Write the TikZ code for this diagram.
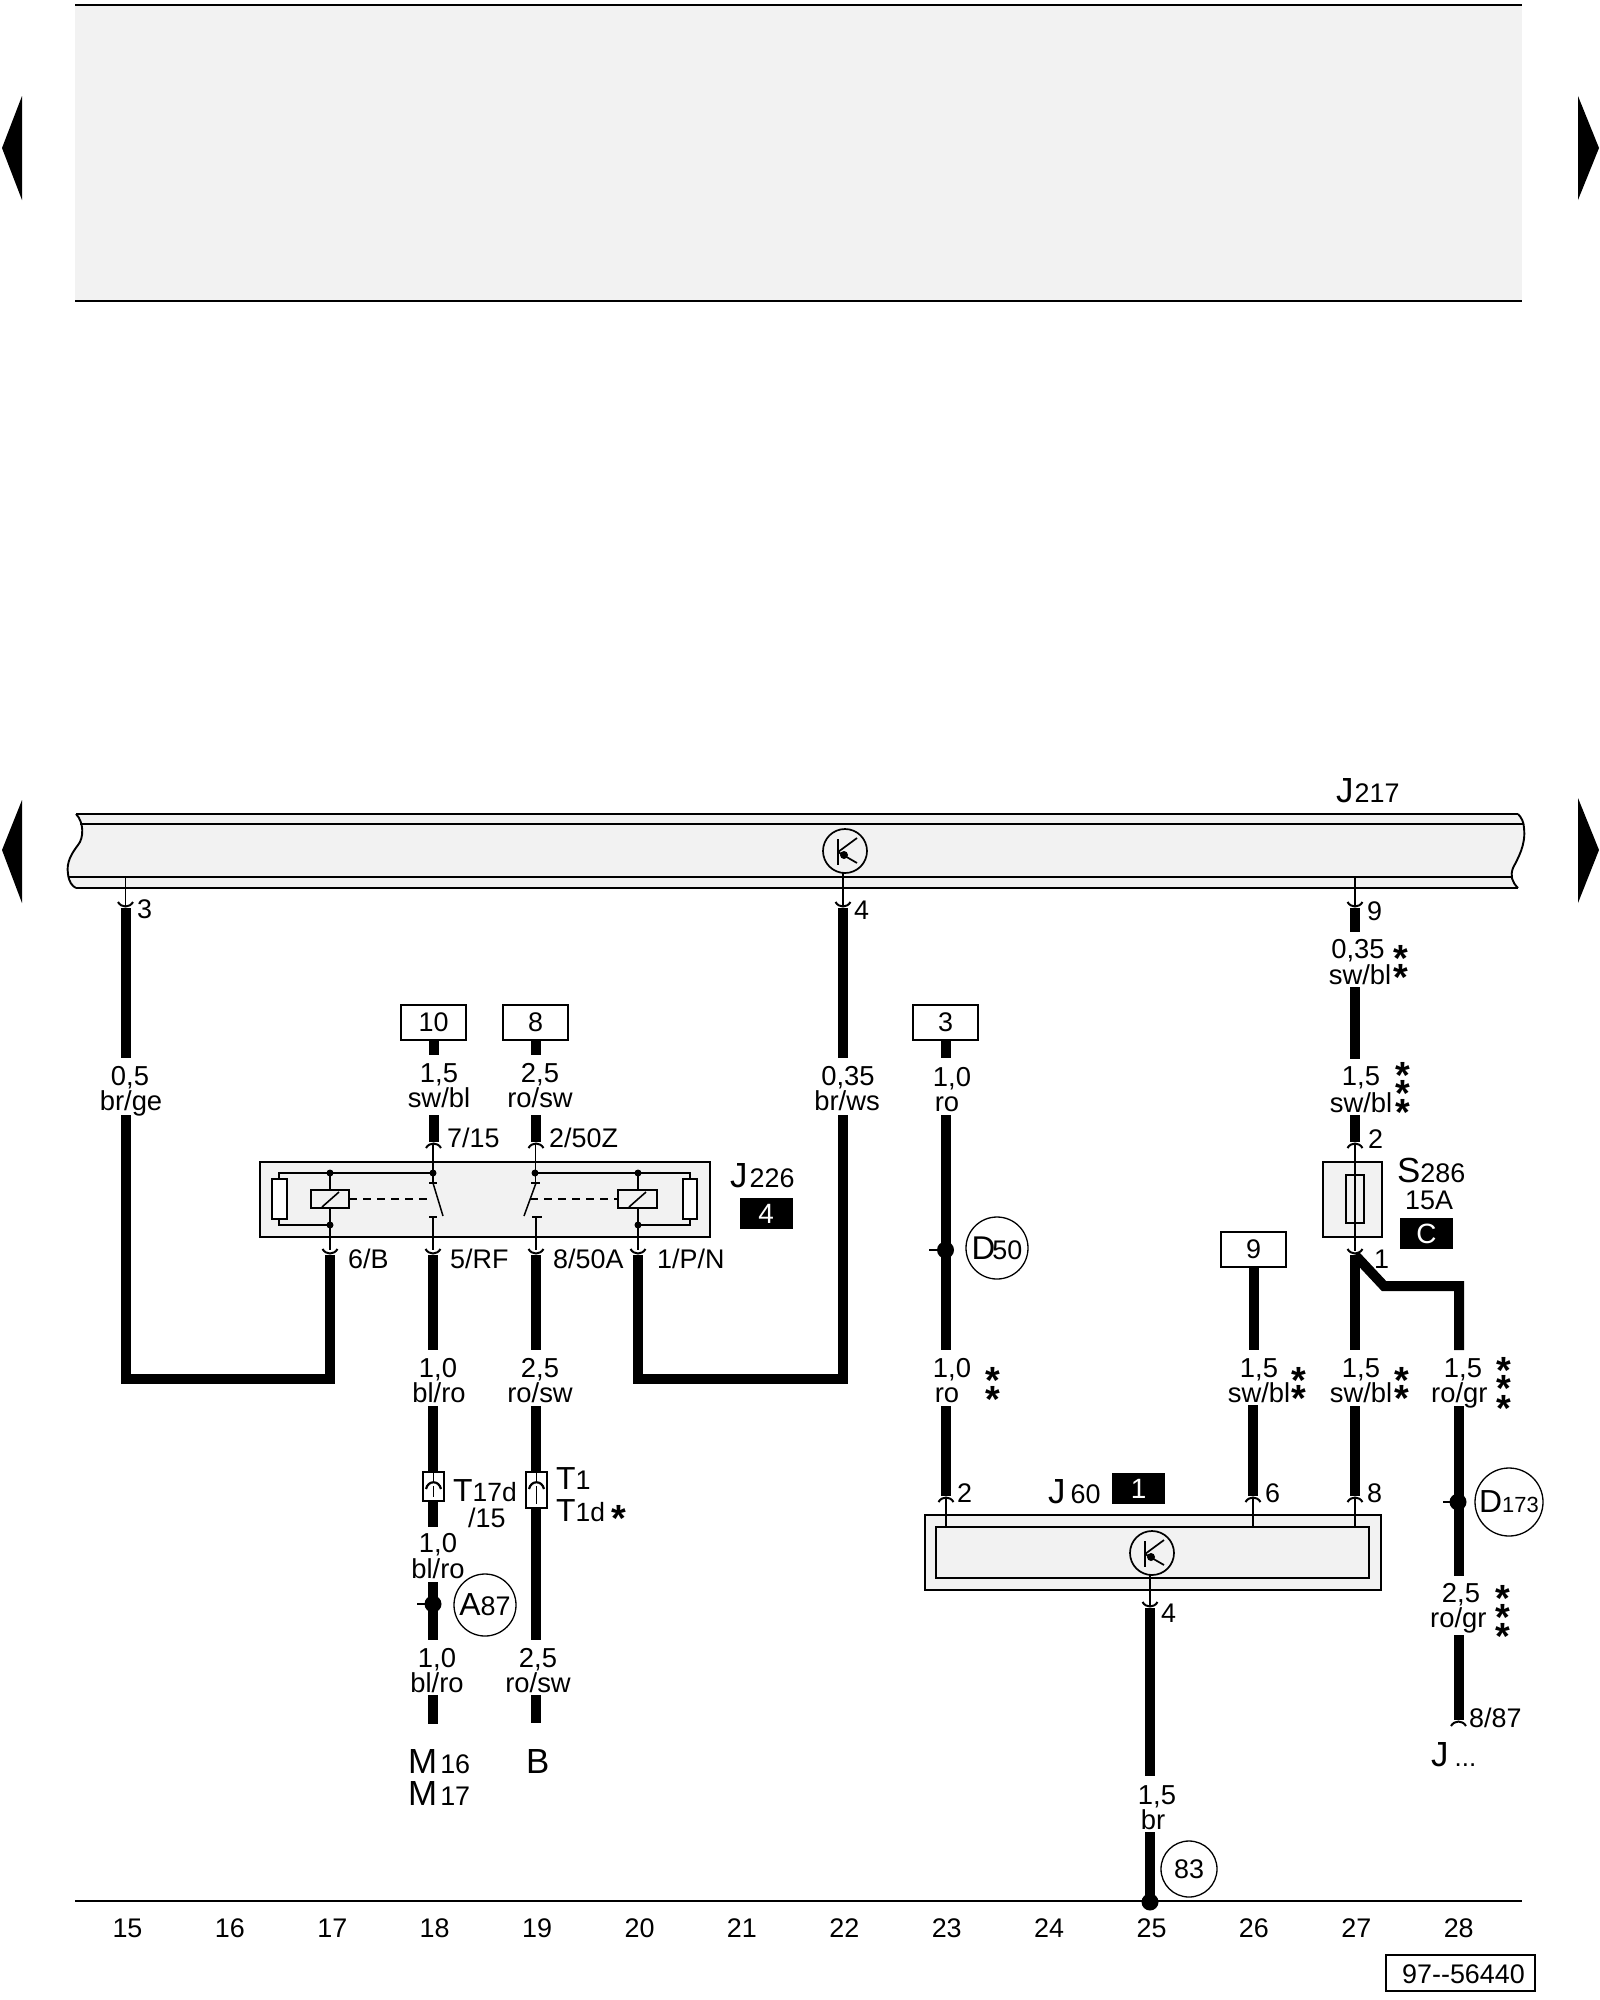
\documentclass[tikz,border=0pt]{standalone}
\usepackage{fontspec}
\setmainfont{Liberation Sans}
\newcommand\fs[1]{\fontsize{#1}{#1}\selectfont}
\tikzset{
  x=1bp,y=-1bp,
  graybg/.style={fill=panel,draw=none},
  rule/.style={draw=black,line width=1.9bp},
  boxline/.style={draw=black,line width=1.9bp,fill=panel},
  thinw/.style={draw=black,line width=1.3bp},
  cupline/.style={draw=black,line width=2bp},
  wire/.style={draw=black,line width=10bp,line cap=butt,line join=miter},
  lab/.style={inner sep=0pt,anchor=base,font=\fs{27.5}},
  labw/.style={inner sep=0pt,anchor=base west,font=\fs{27}},
  colnum/.style={inner sep=0pt,anchor=base,font=\fs{27}},
  star/.style={inner sep=0pt,anchor=base,font=\fs{38}\bfseries},
  refbox/.style={draw=black,line width=1.6bp,fill=white,inner sep=0pt,minimum width=65bp,minimum height=35bp,font=\fs{27}},
  blk/.style={fill=black,text=white,inner sep=0pt,minimum width=53bp,minimum height=31bp,font=\fs{28}},
  spot/.style={circle,draw=black,line width=1.3bp,inner sep=0pt,font=\fs{27}},
  jdot/.style={circle,fill=black,inner sep=0pt},
  contact/.style={draw=black,line width=1.3bp,fill=white},
}
\definecolor{panel}{HTML}{F2F2F2}
\newcommand\cupU[2]{\draw[cupline] ({#1-7.5},{#2-5}) .. controls ({#1-4},{#2+1}) and ({#1+4},{#2+1}) .. ({#1+7.5},{#2-5});}
\newcommand\cupN[2]{\draw[cupline] ({#1-7.5},{#2+5}) .. controls ({#1-4},{#2-1}) and ({#1+4},{#2-1}) .. ({#1+7.5},{#2+5});}
\newcommand\wseg[4]{\coordinate (#1a) at (#2,#3); \coordinate (#1b) at (#2,#4); \draw[wire] (#1a) -- (#1b);}
\newcommand\stub[3]{\draw[thinw] (#1,#2) -- (#1,#3);}
\newcommand\trans[3]{\begin{scope}[shift={(#2,#3)}]
  \node[circle,draw=black,line width=1.7bp,fill=panel,minimum size=44bp,inner sep=0pt] (#1) at (0,0) {};
  \draw[black,line width=1.7bp] (-7,-12) -- (-7,14);
  \draw[black,line width=1.7bp] (-7,1) -- (12,-13);
  \draw[black,line width=1.7bp] (-7,1) -- (12,12);
  \fill[black] (-1,4) circle (4);
\end{scope}}
\newcommand\stars[2]{\foreach \yy in {#2} {\node[star] at (#1,{\yy+18}) {*};}}
\begin{document}
\begin{tikzpicture}
\useasboundingbox (0,0) rectangle (1600,2000);
\fill[white] (0,0) rectangle (1600,2000);
% top panel
\fill[graybg] (75,5) rectangle (1522,301);
\draw[rule] (75,5) -- (1522,5);
\draw[rule] (75,301) -- (1522,301);
% page arrows
\fill[black] (2,148) -- (22,96) -- (22,200) -- cycle;
\fill[black] (1599,148) -- (1578,96) -- (1578,200) -- cycle;
\fill[black] (2,850) -- (22,800) -- (22,903) -- cycle;
\fill[black] (1599,850) -- (1578,798) -- (1578,903) -- cycle;
% J217 bar
\fill[graybg] (76,814) .. controls (84,822) and (84,838) .. (78,845) .. controls (72,853) and (66,862) .. (68,874) .. controls (69,882) and (72,886) .. (76,888)
  -- (1518,888) .. controls (1512,882) and (1510,876) .. (1513,868) .. controls (1518,858) and (1526,845) .. (1524,828) .. controls (1524,822) and (1521,817) .. (1518,814) -- cycle;
\draw[rule] (76,814) .. controls (84,822) and (84,838) .. (78,845) .. controls (72,853) and (66,862) .. (68,874) .. controls (69,882) and (72,886) .. (76,888);
\draw[rule] (1518,888) .. controls (1512,882) and (1510,876) .. (1513,868) .. controls (1518,858) and (1526,845) .. (1524,828) .. controls (1524,822) and (1521,817) .. (1518,814);
\draw[rule] (76,814) -- (1518,814);
\draw[rule] (80,824) -- (1523,824);
\draw[rule] (68,877) -- (1512,877);
\draw[rule] (76,888) -- (1518,888);
\trans{tbar}{845}{851}
\stub{125.5}{877}{906}\cupU{125.5}{907}
\stub{843}{873}{906}\cupU{843}{907}
\stub{1355}{877}{906}\cupU{1355}{907}
\node[labw] (n3) at (137,918) {3};
\node[labw] (n4) at (854,919) {4};
\node[labw] (n9) at (1367,920) {9};
\node[inner sep=0pt,anchor=base west] (j217) at (1336,802) {\fs{35}J\kern1bp\fs{27}217};
% wires from J217
\wseg{wa}{125.5}{908}{1058}
\coordinate (wb1) at (125.5,1115); \coordinate (wb2) at (125.5,1379); \coordinate (wb3) at (330,1379); \coordinate (wb4) at (330,1255);
\draw[wire] (wb1) -- (wb2) -- (wb3) -- (wb4);
\node[lab] (l1) at (130,1085) {0,5};
\node[lab] (l2) at (131,1110) {br/ge};
\wseg{wc}{843}{908}{1058}
\coordinate (wd1) at (843,1115); \coordinate (wd2) at (843,1379); \coordinate (wd3) at (638,1379); \coordinate (wd4) at (638,1255);
\draw[wire] (wd1) -- (wd2) -- (wd3) -- (wd4);
\node[lab] (l3) at (848,1085) {0,35};
\node[lab] (l4) at (847,1110) {br/ws};
% J226 relay
\node[refbox] (b10) at (433.5,1022.5) {10};
\node[refbox] (b8) at (535.5,1022.5) {8};
\draw[wire] (b10.south) -- (433.5,1055);
\draw[wire] (b8.south) -- (535.5,1055);
\node[lab] (l5) at (439,1082) {1,5};
\node[lab] (l6) at (439,1107) {sw/bl};
\node[lab] (l7) at (540,1082) {2,5};
\node[lab] (l8) at (540,1107) {ro/sw};
\wseg{we}{433.5}{1115}{1142}
\wseg{wf}{536}{1115}{1142}
\cupN{433.5}{1143}\cupN{536}{1143}
\node[labw] (l9) at (447,1147) {7/15};
\node[labw] (l10) at (549,1147) {2/50Z};
\node[draw=black,line width=1.8bp,fill=panel,inner sep=0pt,minimum width=450bp,minimum height=75bp] (j226) at (485,1199.5) {};
% left half of relay
\draw[thinw] (433,1173) -- (279,1173) -- (279,1225) -- (330,1225);
\draw[contact] (272,1179) rectangle (287,1219);
\draw[thinw] (330,1173) -- (330,1250);
\draw[thinw,fill=panel,line width=1.6bp] (311,1190) rectangle (349,1208);
\draw[thinw,line width=1.6bp] (322,1207) -- (339,1192);
\draw[thinw,dashed,dash pattern=on 8bp off 6bp] (349,1199) -- (433,1199);
\fill[black] (330,1173) circle (3.5) (330,1225) circle (3.5) (433,1173) circle (3.5);
\draw[thinw] (433,1143) -- (433,1183);
\draw[thinw] (429,1183) -- (437,1183);
\draw[thinw,line width=1.5bp] (433,1183) -- (443,1216);
\draw[thinw] (429,1217) -- (437,1217);
\draw[thinw] (433,1217) -- (433,1250);
% right half of relay
\draw[thinw] (536,1173) -- (690,1173) -- (690,1225) -- (638,1225);
\draw[contact] (683,1179) rectangle (697,1219);
\draw[thinw] (638,1173) -- (638,1250);
\draw[thinw,fill=panel,line width=1.6bp] (618,1190) rectangle (657,1208);
\draw[thinw,line width=1.6bp] (629,1207) -- (646,1192);
\draw[thinw,dashed,dash pattern=on 8bp off 6bp] (530,1199) -- (618,1199);
\fill[black] (638,1173) circle (3.5) (638,1225) circle (3.5) (535,1173) circle (3.5);
\draw[thinw] (535.5,1143) -- (535.5,1183);
\draw[thinw] (531,1183) -- (540,1183);
\draw[thinw,line width=1.5bp] (536,1183) -- (524,1216);
\draw[thinw] (532,1217) -- (542,1217);
\draw[thinw] (536,1217) -- (536,1250);
\cupU{330}{1254}\cupU{433}{1254}\cupU{536}{1254}\cupU{638}{1254}
\node[labw] (l11) at (348,1268) {6/B};
\node[labw] (l12) at (450,1268) {5/RF};
\node[labw] (l13) at (553,1268) {8/50A};
\node[labw] (l14) at (657,1268) {1/P/N};
\node[inner sep=0pt,anchor=base west] (j226t) at (730,1187) {\fs{35}J\kern2bp\fs{27}226};
\node[blk] (k4) at (766,1213.5) {4};
% wires below relay
\wseg{wg}{433}{1255}{1350}
\wseg{wh}{536}{1255}{1350}
\node[lab] (l15) at (438,1377) {1,0};
\node[lab] (l16) at (439,1402) {bl/ro};
\node[lab] (l17) at (540,1377) {2,5};
\node[lab] (l18) at (540,1402) {ro/sw};
\wseg{wi}{433}{1406}{1472}
\wseg{wj}{536}{1406}{1472}
% in-line connectors
\node[contact,minimum width=21bp,minimum height=29bp,inner sep=0pt] (t17) at (433.5,1486.5) {};
\node[contact,minimum width=21bp,minimum height=36bp,inner sep=0pt] (t1) at (536.5,1490) {};
\draw[thinw] (433.5,1472) -- (433.5,1481);
\draw[thinw] (433.5,1486) -- (433.5,1497);
\draw[cupline,line width=2.2bp] (426,1489) .. controls (428,1480) and (439,1480) .. (441,1489);
\draw[thinw] (536.5,1472) -- (536.5,1481);
\draw[thinw] (536.5,1486) -- (536.5,1504);
\draw[cupline,line width=2.2bp] (529,1489) .. controls (531,1480) and (542,1480) .. (544,1489);
\wseg{wk}{433}{1501}{1527}
\wseg{wl}{536}{1508}{1640}
\node[inner sep=0pt,anchor=base west] (t17t) at (453,1501) {\fs{32}T\fs{26.5}17d};
\node[labw] (t17u) at (468,1527) {/15};
\node[inner sep=0pt,anchor=base west] (t1a) at (556,1489) {\fs{32}T\fs{27}1};
\node[inner sep=0pt,anchor=base west] (t1b) at (556,1521) {\fs{32}T\fs{26.5}1d};
\stars{619}{1513}
\node[lab] (l19) at (438,1552) {1,0};
\node[lab] (l20) at (438,1578) {bl/ro};
\wseg{wm}{433}{1582}{1640}
\node[jdot,minimum size=17bp] (ja87) at (433,1604) {};
\draw[thinw] (417,1604) -- (ja87.center);
\node[spot,minimum size=62bp] (a87) at (485,1605) {\fs{32}A\fs{27}87};
\node[lab] (l21) at (437,1667) {1,0};
\node[lab] (l22) at (437,1692) {bl/ro};
\node[lab] (l23) at (538,1667) {2,5};
\node[lab] (l24) at (538,1692) {ro/sw};
\wseg{wn}{433}{1695}{1724}
\wseg{wo}{536}{1695}{1723}
\node[inner sep=0pt,anchor=base west] (m16) at (408,1773) {\fs{35}M\kern3bp\fs{27}16};
\node[inner sep=0pt,anchor=base west] (m17) at (408,1805) {\fs{35}M\kern3bp\fs{27}17};
\node[inner sep=0pt,anchor=base west,font=\fs{35}] (bb) at (526,1773) {B};
% column 23 wire
\node[refbox] (b3) at (945.5,1022.5) {3};
\draw[wire] (b3.south) -- (945.5,1058);
\node[lab] (l25) at (952,1086) {1,0};
\node[lab] (l26) at (947,1111) {ro};
\wseg{wp}{945.5}{1115}{1350}
\node[jdot,minimum size=17bp] (jd50) at (945.5,1250) {};
\draw[thinw] (929,1250) -- (jd50.center);
\node[spot,minimum size=62bp] (d50) at (997,1248) {\fs{33}D\kern-3bp\fs{27}50};
\node[lab] (l27) at (952,1377) {1,0};
\node[lab] (l28) at (947,1402) {ro};
\stars{993}{1375,1394}
\wseg{wq}{946}{1406}{1496}
% J60
\node[draw=black,line width=1.9bp,fill=panel,inner sep=0pt,minimum width=456bp,minimum height=75bp] (j60o) at (1153,1552.5) {};
\node[draw=black,line width=1.9bp,fill=panel,inner sep=0pt,minimum width=433bp,minimum height=51bp] (j60i) at (1152.5,1552.5) {};
\trans{tj60}{1152}{1553}
\stub{946}{1497}{1527}\cupN{946}{1497}
\stub{1253}{1497}{1527}\cupN{1253}{1497}
\stub{1355}{1497}{1527}\cupN{1355}{1497}
\stub{1150}{1575}{1606}\cupU{1150}{1607}
\node[labw] (n2) at (957,1502) {2};
\node[labw] (n6) at (1265,1502) {6};
\node[labw] (n8) at (1367,1502) {8};
\node[inner sep=0pt,anchor=base west] (j60t) at (1048,1503) {\fs{35}J\kern5bp\fs{27}60};
\node[blk] (k1) at (1138.5,1488.5) {1};
\node[labw] (n4b) at (1161,1622) {4};
\wseg{wr}{1150}{1608}{1776}
\node[lab] (l29) at (1157,1804) {1,5};
\node[lab] (l30) at (1153,1829) {br};
\wseg{ws}{1150}{1832}{1902}
\node[spot,minimum size=56bp] (c83) at (1189,1869) {83};
% ground line
\draw[rule] (75,1901) -- (1522,1901);
\node[jdot,minimum size=17bp] (jg) at (1150,1902) {};
% column 26 to 28
\node[refbox] (b9) at (1253.5,1249.5) {9};
\draw[wire] (b9.south) -- (1253.5,1350);
\node[lab] (l31) at (1259,1377) {1,5};
\node[lab] (l32) at (1259,1402) {sw/bl};
\stars{1299}{1375,1393}
\wseg{wt}{1253}{1405}{1496}
% column 27
\wseg{wu}{1355}{908}{932}
\node[lab] (l33) at (1358,958) {0,35};
\node[lab] (l34) at (1360,984) {sw/bl};
\stars{1401}{953,972}
\wseg{wv}{1355}{987}{1059}
\node[lab] (l35) at (1361,1085) {1,5};
\node[lab] (l36) at (1361,1112) {sw/bl};
\stars{1403}{1070,1088,1107}
\wseg{ww}{1355}{1115}{1142}
\cupN{1355}{1143}
\node[labw] (n2b) at (1368,1148) {2};
\node[draw=black,line width=1.8bp,fill=panel,inner sep=0pt,minimum width=59bp,minimum height=75bp] (s286) at (1352.5,1199.5) {};
\draw[thinw,line width=1.7bp,fill=panel] (1346,1175) rectangle (1364,1223);
\stub{1355}{1143}{1251}\cupU{1355}{1254}
\node[inner sep=0pt,anchor=base west] (s286t) at (1397,1182) {\fs{35}S\fs{27}286};
\node[labw] (s15) at (1405,1209) {15A};
\node[blk] (kc) at (1426.5,1233.5) {C};
\node[labw] (n1) at (1374,1268) {1};
\wseg{wx}{1355}{1255}{1350}
\coordinate (wy1) at (1355,1255); \coordinate (wy2) at (1384,1286); \coordinate (wy3) at (1459,1286); \coordinate (wy4) at (1459,1350);
\draw[wire] (wy1) -- (wy2) -- (wy3) -- (wy4);
\node[lab] (l37) at (1361,1377) {1,5};
\node[lab] (l38) at (1361,1402) {sw/bl};
\stars{1402}{1375,1393}
\wseg{wz}{1355}{1406}{1496}
% column 28
\node[lab] (l39) at (1463,1377) {1,5};
\node[labw,font=\fs{27.5}] (l40) at (1431,1402) {ro/gr};
\stars{1504}{1365,1383,1403}
\wseg{xa}{1458.5}{1406}{1576}
\node[jdot,minimum size=17bp] (jd173) at (1458,1502) {};
\draw[thinw] (1443,1502) -- (jd173.center);
\node[spot,minimum size=68bp] (d173) at (1509,1502) {\fs{32}D\fs{22}173};
\node[lab] (l41) at (1461,1602) {2,5};
\node[labw,font=\fs{27.5}] (l42) at (1430,1627) {ro/gr};
\stars{1503}{1593,1612,1631}
\wseg{xb}{1458.5}{1635}{1720}
\cupN{1458.5}{1721}
\node[labw] (l43) at (1469,1727) {8/87};
\node[inner sep=0pt,anchor=base west] (jx) at (1431,1766) {\fs{35}J\kern6bp\fs{26}...};
% column numbers
\foreach \n [count=\i from 0] in {15,...,28} {\node[colnum] (c\n) at ({127.5+102.4*\i},1937) {\n};}
\node[draw=black,line width=1.9bp,inner sep=0pt,minimum width=149bp,minimum height=36bp] (ref) at (1460.5,1973) {};
\node[inner sep=0pt,anchor=base west,font=\fs{27}] (reft) at (1402,1983) {97-{}-56440};
\end{tikzpicture}
\end{document}
